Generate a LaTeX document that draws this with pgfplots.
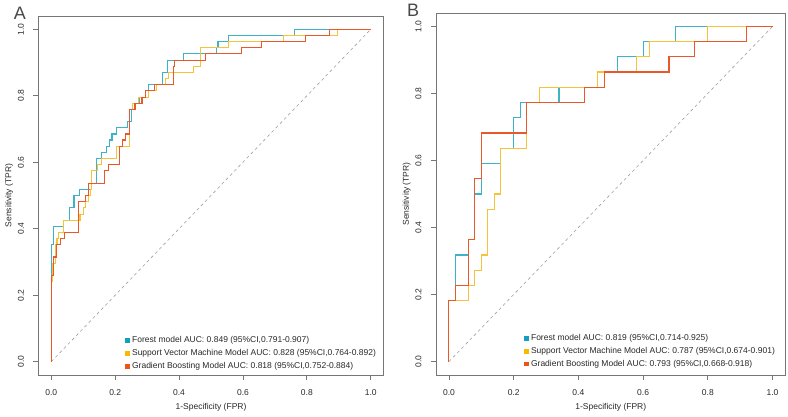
\documentclass[border=0pt]{standalone}
\usepackage{fontspec}
\setmainfont{Liberation Sans}
\usepackage{pgfplots}
\pgfplotsset{compat=1.18}

\definecolor{rfline}{RGB}{62,178,200}
\definecolor{svmline}{RGB}{245,194,58}
\definecolor{gbline}{RGB}{232,88,40}
\definecolor{rfkey}{RGB}{20,160,185}
\definecolor{svmkey}{RGB}{247,186,0}
\definecolor{gbkey}{RGB}{242,82,22}
\definecolor{frame}{RGB}{118,118,118}
\definecolor{txt}{RGB}{40,40,40}

\pgfplotsset{
  rocaxis/.style={
    scale only axis, anchor=south west,
    xmin=-0.04, xmax=1.04, ymin=-0.04, ymax=1.04,
    axis line style={draw=frame, line width=0.9pt},
    tick style={draw=frame, line width=0.8pt},
    tick align=outside, major tick length=5pt, tick pos=left,
    xtick={0,0.2,0.4,0.6,0.8,1}, ytick={0,0.2,0.4,0.6,0.8,1},
    xticklabels={0.0,0.2,0.4,0.6,0.8,1.0},
    yticklabels={0.0,0.2,0.4,0.6,0.8,1.0},
    ticklabel style={font=\fontsize{8.5}{10}\selectfont, text=txt},
    xticklabel style={yshift=-6pt},
    yticklabel style={rotate=90, anchor=south, yshift=6pt},
    xlabel={1-Specificity (FPR)}, ylabel={Sensitivity (TPR)},
    xlabel shift=1pt, ylabel shift=-2pt,
    label style={font=\fontsize{8.5}{10}\selectfont, text=txt},
    legend image code/.code={\fill[##1] (0pt,-2.4pt) rectangle (4.8pt,2.4pt);},
    legend style={draw=none, fill=none, font=\fontsize{8.5}{10}\selectfont,
      text=txt, inner sep=0pt, row sep=1.2pt, anchor=north west},
    legend cell align=left,
  },
  roc/.style={line width=1.1pt, forget plot},
  chance/.style={gray!75, line width=0.6pt, dash pattern=on 3pt off 3pt, forget plot},
}

\begin{document}
\begin{tikzpicture}
\useasboundingbox (0pt,0pt) rectangle (788pt,416pt);

% ---------------- Panel A: training set ----------------
\begin{axis}[rocaxis, at={(38.5pt,41pt)}, width=345pt, height=359pt,
  legend style={at={(axis description cs:0.251,0.113)}}]
\addplot[chance] coordinates {(0,0) (1,1)};
\addplot[roc, rfline] coordinates {
(0,0)(0,0.352)(0.006,0.352)(0.006,0.407)(0.037,0.407)(0.037,0.426)(0.056,0.426)
(0.056,0.463)(0.071,0.463)(0.071,0.5)(0.088,0.5)(0.088,0.519)(0.126,0.519)
(0.126,0.537)(0.142,0.537)(0.142,0.611)(0.158,0.611)(0.158,0.63)(0.173,0.63)
(0.173,0.648)(0.183,0.648)(0.183,0.667)(0.19,0.667)(0.19,0.685)(0.204,0.685)
(0.204,0.704)(0.239,0.704)(0.239,0.722)(0.251,0.722)(0.251,0.759)(0.265,0.759)
(0.265,0.778)(0.277,0.778)(0.277,0.796)(0.295,0.796)(0.295,0.815)(0.303,0.815)
(0.303,0.833)(0.348,0.833)(0.348,0.87)(0.363,0.87)(0.363,0.907)(0.413,0.907)
(0.413,0.926)(0.517,0.926)(0.517,0.944)(0.522,0.944)(0.522,0.963)(0.555,0.963)
(0.555,0.981)(0.762,0.981)(0.762,1)(1,1)};
\addplot[roc, svmline] coordinates {
(0,0)(0,0.241)(0.005,0.241)(0.005,0.296)(0.012,0.296)(0.012,0.352)(0.018,0.352)
(0.018,0.37)(0.022,0.37)(0.022,0.389)(0.037,0.389)(0.037,0.426)(0.09,0.426)
(0.09,0.444)(0.1,0.444)(0.1,0.463)(0.108,0.463)(0.108,0.481)(0.116,0.481)
(0.116,0.5)(0.122,0.5)(0.122,0.519)(0.126,0.519)(0.126,0.574)(0.145,0.574)
(0.145,0.593)(0.158,0.593)(0.158,0.611)(0.204,0.611)(0.204,0.648)(0.244,0.648)
(0.244,0.759)(0.255,0.759)(0.255,0.778)(0.274,0.778)(0.274,0.796)(0.303,0.796)
(0.303,0.815)(0.329,0.815)(0.329,0.833)(0.358,0.833)(0.358,0.852)(0.366,0.852)
(0.366,0.87)(0.444,0.87)(0.444,0.889)(0.467,0.889)(0.467,0.944)(0.555,0.944)
(0.555,0.963)(0.728,0.963)(0.728,0.981)(0.897,0.981)(0.897,1)(1,1)};
\addplot[roc, gbline] coordinates {
(0,0)(0,0.259)(0.006,0.259)(0.006,0.315)(0.017,0.315)(0.017,0.352)(0.03,0.352)
(0.03,0.37)(0.041,0.37)(0.041,0.389)(0.084,0.389)(0.084,0.481)(0.108,0.481)
(0.108,0.5)(0.116,0.5)(0.116,0.537)(0.166,0.537)(0.166,0.574)(0.18,0.574)
(0.18,0.593)(0.213,0.593)(0.213,0.648)(0.223,0.648)(0.223,0.667)(0.233,0.667)
(0.233,0.685)(0.246,0.685)(0.246,0.759)(0.262,0.759)(0.262,0.778)(0.284,0.778)
(0.284,0.796)(0.296,0.796)(0.296,0.815)(0.324,0.815)(0.324,0.833)(0.384,0.833)
(0.384,0.889)(0.387,0.889)(0.387,0.907)(0.483,0.907)(0.483,0.926)(0.595,0.926)
(0.595,0.944)(0.658,0.944)(0.658,0.963)(0.795,0.963)(0.795,0.981)(0.871,0.981)
(0.871,1)(1,1)};
\addlegendimage{fill=rfkey, draw=none}
\addlegendentry{Forest model AUC: 0.849 (95\%CI,0.791-0.907)}
\addlegendimage{fill=svmkey, draw=none}
\addlegendentry{Support Vector Machine Model AUC: 0.828 (95\%CI,0.764-0.892)}
\addlegendimage{fill=gbkey, draw=none}
\addlegendentry{Gradient Boosting Model AUC: 0.818 (95\%CI,0.752-0.884)}
\end{axis}

% ---------------- Panel B: validation set ----------------
\begin{axis}[rocaxis, at={(436pt,41pt)}, width=349.5pt, height=362pt,
  legend style={at={(axis description cs:0.252,0.118)}}]
\addplot[chance] coordinates {(0,0) (1,1)};
\addplot[roc, rfline] coordinates {
(0,0)(0,0.182)(0.02,0.182)(0.02,0.318)(0.06,0.318)(0.06,0.364)(0.08,0.364)
(0.08,0.5)(0.1,0.5)(0.1,0.591)(0.16,0.591)(0.16,0.636)(0.2,0.636)(0.2,0.727)
(0.22,0.727)(0.22,0.773)(0.34,0.773)(0.34,0.818)(0.46,0.818)(0.46,0.864)
(0.52,0.864)(0.52,0.909)(0.6,0.909)(0.6,0.955)(0.7,0.955)(0.7,1)(1,1)};
\addplot[roc, svmline] coordinates {
(0,0)(0,0.182)(0.06,0.182)(0.06,0.227)(0.08,0.227)(0.08,0.273)(0.1,0.273)
(0.1,0.318)(0.12,0.318)(0.12,0.455)(0.14,0.455)(0.14,0.5)(0.16,0.5)(0.16,0.636)
(0.24,0.636)(0.24,0.773)(0.28,0.773)(0.28,0.818)(0.46,0.818)(0.46,0.864)
(0.58,0.864)(0.58,0.909)(0.62,0.909)(0.62,0.955)(0.8,0.955)(0.8,1)(1,1)};
\addplot[roc, gbline] coordinates {
(0,0)(0,0.182)(0.02,0.182)(0.02,0.227)(0.06,0.227)(0.06,0.364)(0.08,0.364)
(0.08,0.545)(0.1,0.545)(0.1,0.682)(0.24,0.682)(0.24,0.773)(0.42,0.773)
(0.42,0.818)(0.48,0.818)(0.48,0.864)(0.68,0.864)(0.68,0.909)(0.76,0.909)
(0.76,0.955)(0.92,0.955)(0.92,1)(1,1)};
\addlegendimage{fill=rfkey, draw=none}
\addlegendentry{Forest model AUC: 0.819 (95\%CI,0.714-0.925)}
\addlegendimage{fill=svmkey, draw=none}
\addlegendentry{Support Vector Machine Model AUC: 0.787 (95\%CI,0.674-0.901)}
\addlegendimage{fill=gbkey, draw=none}
\addlegendentry{Gradient Boosting Model AUC: 0.793 (95\%CI,0.668-0.918)}
\end{axis}

% panel letters
\node[font=\fontsize{18}{18}\selectfont, text=txt!85] at (20pt,402.7pt) {A};
\node[font=\fontsize{18}{18}\selectfont, text=txt!85] at (413pt,405.5pt) {B};
\end{tikzpicture}
\end{document}
